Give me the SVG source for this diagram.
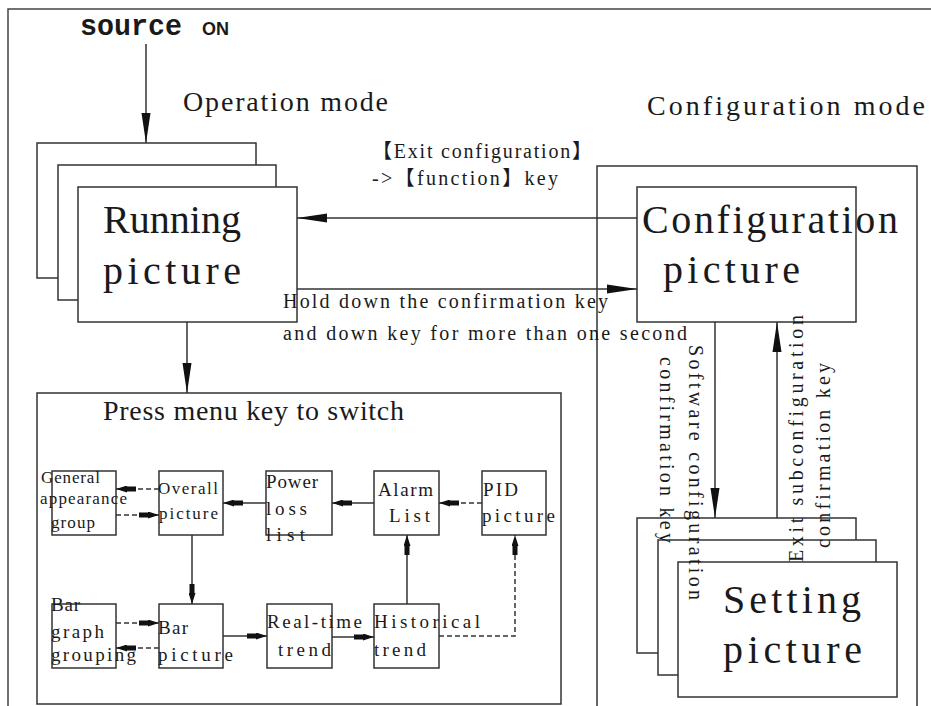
<svg xmlns="http://www.w3.org/2000/svg" width="931" height="706" viewBox="0 0 931 706">
<style>
.box{fill:#fff;stroke:#333;stroke-width:1.5}
.frame{fill:none;stroke:#444;stroke-width:1.5}
.ln{fill:none;stroke:#333;stroke-width:1.5}
.dash{fill:none;stroke:#333;stroke-width:1.5;stroke-dasharray:5,3}
.t{font-family:"Liberation Serif","Noto Sans CJK SC",serif;fill:#1a1a1a}
.big{font-size:40px}
.mid{font-size:28px}
.lab{font-size:20px}
.s15{font-size:17px}
.s17{font-size:19px}
</style>
<defs>
<marker id="ab" markerUnits="userSpaceOnUse" markerWidth="30" markerHeight="10" refX="30" refY="5" orient="auto" viewBox="0 0 30 10"><path d="M0,0.5 L30,5 L0,9.5 z" fill="#111"/></marker>
<marker id="as" markerUnits="userSpaceOnUse" markerWidth="20" markerHeight="7" refX="20" refY="3.5" orient="auto" viewBox="0 0 20 7"><path d="M0,1 L9,1 L9,0 L20,3.5 L9,7 L9,6 L0,6 z" fill="#111"/></marker>
</defs>
<rect class="frame" x="8" y="9" width="960" height="730"/>
<g id="source-on">
<text x="80" y="35" font-family="Liberation Mono, monospace" font-size="30" font-weight="bold" fill="#1a1a1a" textLength="102" lengthAdjust="spacingAndGlyphs">source</text>
<text x="202" y="35" font-family="Liberation Sans, sans-serif" font-size="18" font-weight="bold" fill="#1a1a1a">ON</text>
</g>
<text class="t mid" x="183" y="111" textLength="205" lengthAdjust="spacing">Operation mode</text>
<g id="running-picture">
<rect class="box" x="37" y="143" width="219" height="135"/>
<rect class="box" x="58" y="165" width="218" height="135"/>
<rect class="box" x="78" y="187" width="219" height="135"/>
<text class="t big" x="103" y="233" textLength="138" lengthAdjust="spacing">Running</text>
<text class="t big" x="103" y="284" textLength="138" lengthAdjust="spacing">picture</text>
</g>
<g id="configuration-mode">
<rect class="box" x="597" y="166" width="320" height="570"/>
<text class="t mid" x="647" y="115" textLength="278" lengthAdjust="spacing">Configuration mode</text>
</g>
<g id="configuration-picture">
<rect class="box" x="637" y="187" width="219" height="135"/>
<text class="t big" x="642" y="233" textLength="256" lengthAdjust="spacing">Configuration</text>
<text class="t big" x="663" y="283" textLength="137" lengthAdjust="spacing">picture</text>
</g>
<g id="setting-picture">
<rect class="box" x="637" y="518" width="219" height="135"/>
<rect class="box" x="658" y="540" width="218" height="135"/>
<rect class="box" x="678" y="562" width="219" height="135"/>
<text class="t big" x="723" y="613" textLength="138" lengthAdjust="spacing">Setting</text>
<text class="t big" x="723" y="663" textLength="139" lengthAdjust="spacing">picture</text>
</g>
<g id="menu-panel">
<rect class="box" x="37" y="393" width="524" height="311"/>
<text class="t" x="103" y="420" font-size="28" textLength="301" lengthAdjust="spacing">Press menu key to switch</text>
</g>
<g id="general-appearance-group">
<rect class="box" x="52" y="471" width="64" height="64"/>
<text class="t s15" x="41" y="483" textLength="59" lengthAdjust="spacing">General</text>
<text class="t s15" x="40" y="504" textLength="87" lengthAdjust="spacing">appearance</text>
<text class="t s15" x="51" y="528" textLength="44" lengthAdjust="spacing">group</text>
</g>
<g id="overall-picture">
<rect class="box" x="159" y="471" width="64" height="64"/>
<text class="t s15" x="158" y="494" textLength="60" lengthAdjust="spacing">Overall</text>
<text class="t s15" x="159" y="519" textLength="59" lengthAdjust="spacing">picture</text>
</g>
<g id="power-loss-list">
<rect class="box" x="266" y="471" width="66" height="64"/>
<text class="t s17" x="266" y="488" textLength="52" lengthAdjust="spacing">Power</text>
<text class="t s17" x="266" y="515" textLength="41" lengthAdjust="spacing">loss</text>
<text class="t s17" x="266" y="541" textLength="39" lengthAdjust="spacing">list</text>
</g>
<g id="alarm-list">
<rect class="box" x="374" y="471" width="65" height="64"/>
<text class="t s17" x="378" y="496" textLength="55" lengthAdjust="spacing">Alarm</text>
<text class="t s17" x="389" y="522" textLength="41" lengthAdjust="spacing">List</text>
</g>
<g id="pid-picture">
<rect class="box" x="482" y="471" width="64" height="64"/>
<text class="t s17" x="483" y="496" textLength="35" lengthAdjust="spacing">PID</text>
<text class="t s17" x="482" y="522" textLength="73" lengthAdjust="spacing">picture</text>
</g>
<g id="bar-graph-grouping">
<rect class="box" x="52" y="604" width="64" height="64"/>
<text class="t s17" x="51" y="611" textLength="29" lengthAdjust="spacing">Bar</text>
<text class="t s17" x="51" y="638" textLength="53" lengthAdjust="spacing">graph</text>
<text class="t s17" x="51" y="661" textLength="85" lengthAdjust="spacing">grouping</text>
</g>
<g id="bar-picture">
<rect class="box" x="159" y="604" width="64" height="64"/>
<text class="t s17" x="158" y="634" textLength="30" lengthAdjust="spacing">Bar</text>
<text class="t s17" x="158" y="661" textLength="75" lengthAdjust="spacing">picture</text>
</g>
<g id="real-time-trend">
<rect class="box" x="267" y="604" width="65" height="64"/>
<text class="t s17" x="267" y="628" textLength="95" lengthAdjust="spacing">Real-time</text>
<text class="t s17" x="278" y="656" textLength="53" lengthAdjust="spacing">trend</text>
</g>
<g id="historical-trend">
<rect class="box" x="374" y="604" width="65" height="64"/>
<text class="t s17" x="374" y="628" textLength="106" lengthAdjust="spacing">Historical</text>
<text class="t s17" x="374" y="656" textLength="52" lengthAdjust="spacing">trend</text>
</g>
<g id="connectors">
<path class="ln" d="M146,44 L146,143" marker-end="url(#ab)"/>
<path class="ln" d="M187,322 L187,393" marker-end="url(#ab)"/>
<path class="ln" d="M637,218 L297,218" marker-end="url(#ab)"/>
<path class="ln" d="M297,289 L637,289" marker-end="url(#ab)"/>
<path class="ln" d="M715,322 L715,518" marker-end="url(#ab)"/>
<path class="ln" d="M777,518 L777,322" marker-end="url(#ab)"/>
<path class="dash" d="M159,489 L116,489" marker-end="url(#as)"/>
<path class="dash" d="M116,515 L159,515" marker-end="url(#as)"/>
<path class="ln" d="M266,503 L223,503" marker-end="url(#as)"/>
<path class="ln" d="M374,503 L332,503" marker-end="url(#as)"/>
<path class="dash" d="M482,503 L439,503" marker-end="url(#as)"/>
<path class="ln" d="M192,535 L192,604" marker-end="url(#as)"/>
<path class="dash" d="M116,623 L159,623" marker-end="url(#as)"/>
<path class="dash" d="M159,648 L116,648" marker-end="url(#as)"/>
<path class="ln" d="M223,636 L267,636" marker-end="url(#as)"/>
<path class="ln" d="M332,637 L374,637" marker-end="url(#as)"/>
<path class="ln" d="M407,604 L407,535" marker-end="url(#as)"/>
<path class="dash" d="M439,636 L515,636 L515,535" marker-end="url(#as)"/>
<text class="t" x="372" y="158" font-size="20" textLength="220" lengthAdjust="spacing">【Exit configuration】</text>
<text class="t" x="372" y="185" font-size="20" textLength="186" lengthAdjust="spacing">->【function】key</text>
<text class="t" x="283" y="308" font-size="20" textLength="325" lengthAdjust="spacing">Hold down the confirmation key</text>
<text class="t" x="283" y="340" font-size="20" textLength="404" lengthAdjust="spacing">and down key for more than one second</text>
<text class="t lab" transform="translate(689,345) rotate(90)" textLength="255" lengthAdjust="spacing">Software configuration</text>
<text class="t lab" transform="translate(660,357) rotate(90)" textLength="186" lengthAdjust="spacing">confirmation key</text>
<text class="t lab" transform="translate(803,562) rotate(-90)" textLength="247" lengthAdjust="spacing">Exit subconfiguration</text>
<text class="t lab" transform="translate(830,548) rotate(-90)" textLength="185" lengthAdjust="spacing">confirmation key</text>
</g>
</svg>
